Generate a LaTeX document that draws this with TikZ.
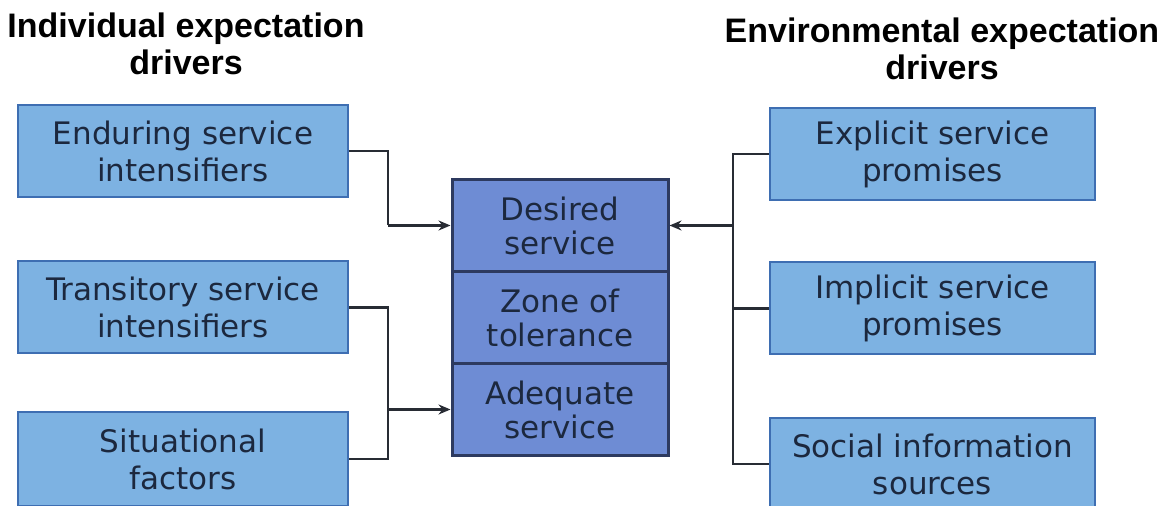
\documentclass[tikz,border=0pt]{standalone}
\usepackage{fontspec}
\setmainfont{DejaVu Sans}
\newfontfamily\titlefont{Liberation Sans}
\usetikzlibrary{arrows.meta}
\definecolor{boxfill}{RGB}{125,178,226}
\definecolor{boxline}{RGB}{62,110,178}
\definecolor{midfill}{RGB}{110,140,212}
\definecolor{midline}{RGB}{45,58,95}
\definecolor{txt}{RGB}{28,40,62}
\definecolor{conn}{RGB}{40,44,52}
\tikzset{
  drv/.style={draw=boxline, line width=1pt, fill=boxfill, minimum width=165pt, minimum height=46pt,
    align=center, text=txt, font=\fontsize{15.5pt}{18.5pt}\selectfont, inner sep=0pt},
  mid/.style={draw=midline, line width=1.5pt, fill=midfill, minimum width=108pt, minimum height=46pt,
    align=center, text=txt, font=\fontsize{15.5pt}{17pt}\selectfont, inner sep=0pt},
  ttl/.style={align=center, font=\titlefont\bfseries\fontsize{17pt}{18.5pt}\selectfont, inner sep=0pt, text=black},
  cn/.style={draw=conn, line width=1.2pt},
  arr/.style={cn, -{Stealth[length=6pt,width=5pt]}}
}
\begin{document}
\begin{tikzpicture}[x=0.5pt,y=-0.5pt]
\useasboundingbox (0,0) rectangle (1157,506);
\fill[white] (0,0) rectangle (1157,506);
% titles
\node[ttl] (tl) at (186,44) {Individual expectation\\drivers};
\node[ttl] (tr) at (942,49) {Environmental expectation\\drivers};
% left boxes
\node[drv, minimum width=165pt, minimum height=46pt] (e1) at (183,151) {Enduring service\\intensifiers};
\node[drv] (e2) at (183,307.5) {Transitory service\\intensifiers};
\node[drv, minimum height=47pt] (e3) at (183,459) {Situational\\factors};
% right boxes
\node[drv, minimum width=162.5pt] (r1) at (932.5,154) {Explicit service\\promises};
\node[drv, minimum width=162.5pt] (r2) at (932.5,308.5) {Implicit service\\promises};
\node[drv, minimum width=162.5pt] (r3) at (932.5,464) {Social information\\sources};
% centre stack
\node[mid] (des) at (560,225.5) {Desired\\service};
\node[mid] (zon) at (560,317.5) {Zone of\\tolerance};
\node[mid] (ade) at (560,409.5) {Adequate\\service};
% junctions
\coordinate (jl) at (388,0);
\coordinate (jr) at (733,0);
% left connectors
\draw[cn] (e1.east) -- (e1.east -| jl) -- (jl |- des.west);
\draw[arr] (jl |- des.west) -- (des.west);
\draw[cn] (e2.east) -- (e2.east -| jl) -- (jl |- e3.east) -- (e3.east);
\draw[arr] (jl |- ade.west) -- (ade.west);
% right connectors
\draw[cn] (r1.west) -- (r1.west -| jr) -- (jr |- r3.west) -- (r3.west);
\draw[cn] (r2.west) -- (r2.west -| jr);
\draw[arr] (jr |- des.east) -- (des.east);
\end{tikzpicture}
\end{document}
